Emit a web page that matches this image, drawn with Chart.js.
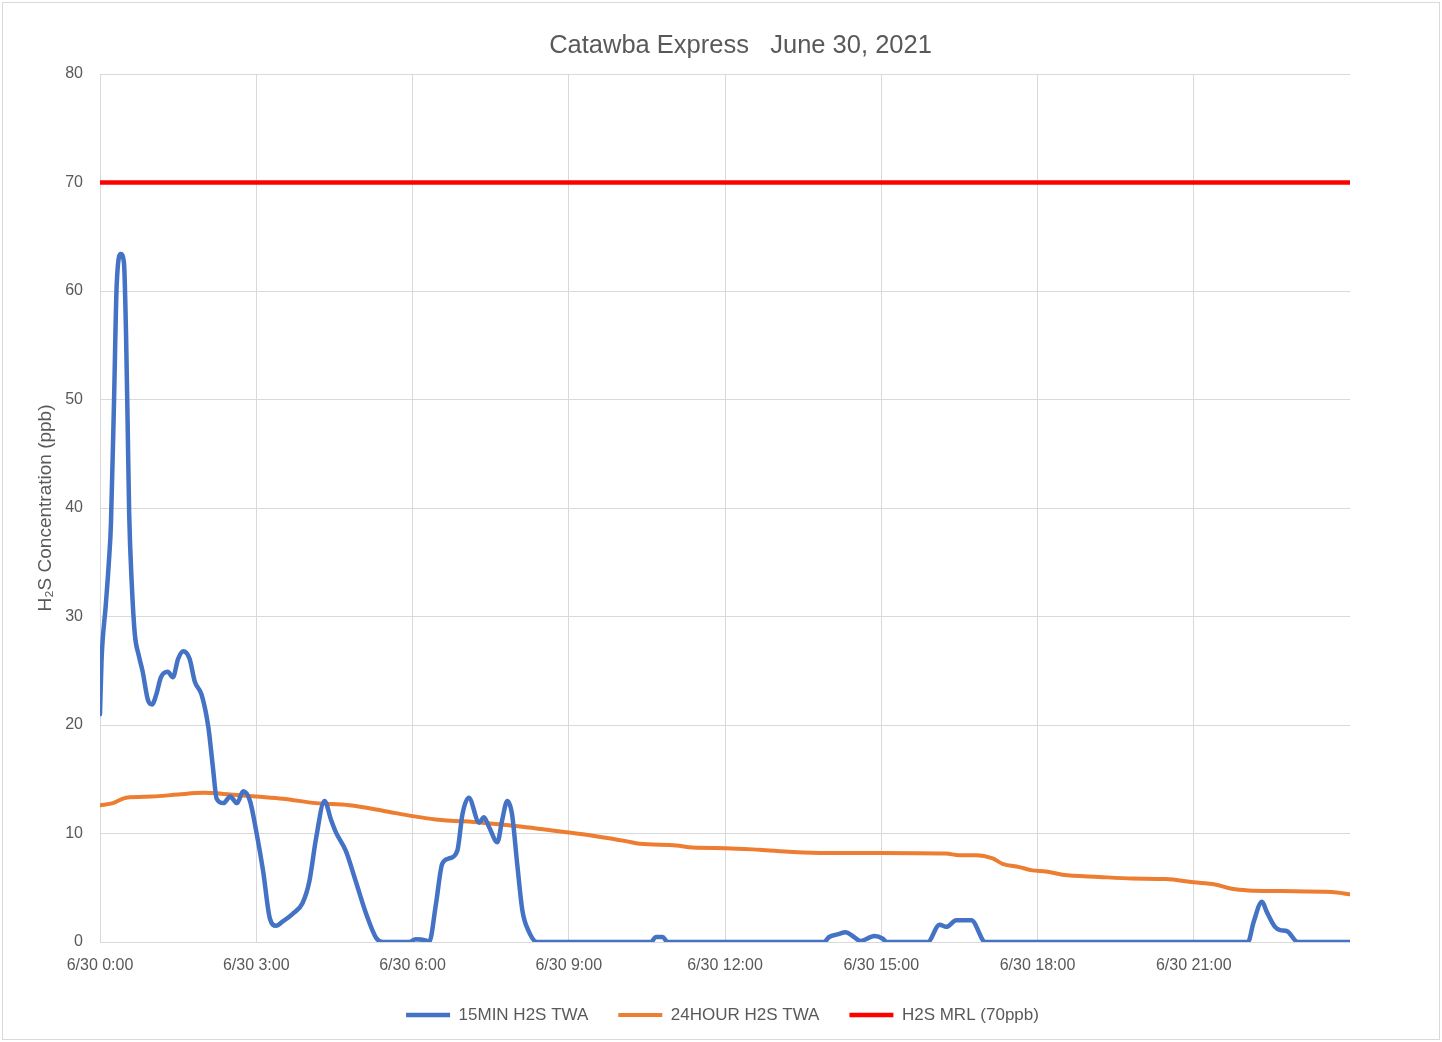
<!DOCTYPE html>
<html>
<head>
<meta charset="utf-8">
<script src="https://cdn.jsdelivr.net/npm/chart.js@4.4.0/dist/chart.umd.min.js"></script>
<style>
  body { margin: 0; background: #fff; }
  #wrap { position: relative; width: 1442px; height: 1042px; }
  #frame { position: absolute; left: 2px; top: 2px; width: 1436px; height: 1036px; border: 1px solid #d9d9d9; pointer-events: none; }
</style>
</head>
<body>
<div id="wrap">
  <canvas id="myChart" width="1442" height="1042"></canvas>
  <div id="frame"></div>
</div>
<script>
// hours since 6/30 0:00 and readings (ppb)
var blueHours = [0, 0.03, 0.11, 0.17, 0.21, 0.27, 0.32, 0.4, 0.46, 0.5, 0.53, 0.56, 0.61, 0.67, 0.74, 0.82, 0.92, 1.0, 1.08, 1.17, 1.3, 1.4, 1.5, 1.6, 1.72, 1.82, 1.95, 2.08, 2.17, 2.24, 2.37, 2.5, 2.63, 2.75, 2.88, 3.0, 3.13, 3.26, 3.38, 3.51, 3.7, 3.89, 4.02, 4.15, 4.31, 4.44, 4.53, 4.72, 4.91, 5.11, 5.3, 5.43, 5.94, 6.06, 6.25, 6.32, 6.45, 6.57, 6.7, 6.86, 6.96, 7.08, 7.28, 7.37, 7.47, 7.63, 7.72, 7.82, 7.91, 8.01, 8.11, 8.23, 8.39, 10.58, 10.67, 10.8, 10.9, 13.9, 14.0, 14.16, 14.32, 14.45, 14.6, 14.87, 15.03, 15.1, 15.89, 16.12, 16.25, 16.44, 16.73, 17.0, 22.04, 22.15, 22.31, 22.4, 22.56, 22.66, 22.79, 23.0, 24];
var blueValues = [21, 26, 31, 35, 38.5, 50, 60.5, 63.4, 62.6, 56, 48, 39.5, 33, 28.3, 26.5, 24.9, 22.3, 21.9, 22.8, 24.4, 24.9, 24.4, 26.1, 26.8, 26.1, 24, 22.8, 19.8, 16, 13.2, 12.8, 13.4, 12.8, 13.9, 13.0, 10.2, 6.6, 2.2, 1.5, 1.9, 2.6, 3.6, 5.6, 9.6, 13.0, 11.2, 10.1, 8.4, 5.6, 2.6, 0.4, 0, 0, 0.25, 0.15, 0, 3.5, 7.2, 7.7, 8.4, 11.8, 13.3, 11.0, 11.5, 10.6, 9.2, 11.2, 13.0, 11.8, 7.2, 2.9, 1.0, 0, 0, 0.46, 0.46, 0, 0, 0.46, 0.7, 0.9, 0.55, 0.1, 0.55, 0.3, 0, 0, 1.6, 1.4, 2.0, 2.0, 0, 0, 1.85, 3.7, 2.8, 1.4, 1.1, 1.0, 0, 0];

var orangeHours = [0, 0.25, 0.5, 1.0, 1.5, 2.0, 2.5, 3.0, 3.51, 4.15, 4.79, 5.43, 6.0, 6.45, 7.34, 7.98, 9.0, 9.46, 10.1, 10.36, 11.06, 11.38, 12.02, 12.66, 13.3, 13.94, 15.0, 16.24, 16.5, 16.82, 17.14, 17.33, 17.65, 17.9, 18.16, 18.48, 19.18, 19.82, 20.46, 21.0, 21.41, 21.73, 22.05, 22.69, 23.65, 24];
var orangeValues = [12.6, 12.8, 13.3, 13.4, 13.6, 13.75, 13.6, 13.4, 13.2, 12.8, 12.6, 12.1, 11.6, 11.3, 11.0, 10.7, 10.1, 9.8, 9.3, 9.05, 8.9, 8.7, 8.65, 8.5, 8.3, 8.2, 8.2, 8.15, 8.0, 8.0, 7.7, 7.2, 6.9, 6.6, 6.5, 6.2, 6.0, 5.85, 5.8, 5.5, 5.3, 4.9, 4.75, 4.7, 4.6, 4.4];

var mrlHours = [0, 24];
var mrlValues = [70, 70];

var tickLabels = ['6/30 0:00', '6/30 3:00', '6/30 6:00', '6/30 9:00', '6/30 12:00', '6/30 15:00', '6/30 18:00', '6/30 21:00'];
var seriesNames = ['15MIN H2S TWA', '24HOUR H2S TWA', 'H2S MRL (70ppb)'];

function pts(xs, ys) {
  return xs.map(function (x, i) { return { x: x, y: ys[i] }; });
}

var grey = '#595959';
var font = 'Liberation Sans, Arial, sans-serif';

// Excel centres title and legend a bit further right than Chart.js does
var nudge = {
  id: 'nudge',
  afterLayout: function (chart) {
    if (chart.titleBlock) chart.titleBlock.left += 101;
    if (chart.legend) chart.legend.left += 65;
  }
};

var ctx = document.getElementById('myChart').getContext('2d');

var myChart = new Chart(ctx, {
  type: 'line',
  data: {
    datasets: [{
      label: seriesNames[0],
      data: pts(blueHours, blueValues),
      borderColor: '#4472C4',
      backgroundColor: '#4472C4',
      borderWidth: 4.5,
      borderCapStyle: 'round',
      borderJoinStyle: 'round',
      cubicInterpolationMode: 'monotone'
    }, {
      label: seriesNames[1],
      data: pts(orangeHours, orangeValues),
      borderColor: '#ED7D31',
      backgroundColor: '#ED7D31',
      borderWidth: 4,
      borderCapStyle: 'round',
      borderJoinStyle: 'round',
      cubicInterpolationMode: 'monotone'
    }, {
      label: seriesNames[2],
      data: pts(mrlHours, mrlValues),
      borderColor: '#FF0000',
      backgroundColor: '#FF0000',
      borderWidth: 4.5,
      borderCapStyle: 'round'
    }]
  },
  plugins: [nudge],
  options: {
    responsive: false,
    animation: false,
    layout: { padding: { top: 20, left: 30, right: 92, bottom: 8.5 } },
    elements: { point: { radius: 0 } },
    plugins: {
      title: {
        display: true,
        text: 'Catawba Express   June 30, 2021',
        color: grey,
        font: { family: font, size: 25.5, weight: 'normal' },
        padding: { top: 10.5, bottom: 12.9 }
      },
      legend: {
        position: 'bottom',
        labels: {
          color: grey,
          font: { family: font, size: 17 },
          usePointStyle: true,
          pointStyle: 'line',
          pointStyleWidth: 44,
          boxHeight: 17,
          padding: 30
        }
      },
      tooltip: { enabled: false }
    },
    scales: {
      x: {
        type: 'linear',
        min: 0,
        max: 24,
        afterFit: function (s) { s.height = 34.5; },
        ticks: {
          stepSize: 3,
          padding: 14,
          color: grey,
          maxRotation: 0,
          font: { family: font, size: 16 },
          callback: function (v) { return tickLabels[v / 3] || ''; }
        },
        grid: {
          drawTicks: false,
          color: function (c) { return c.tick && c.tick.value === 24 ? 'rgba(0,0,0,0)' : '#d9d9d9'; }
        },
        border: { display: false }
      },
      y: {
        min: 0,
        max: 80,
        afterFit: function (s) { s.width = 70; },
        ticks: {
          stepSize: 10,
          padding: 17,
          color: grey,
          font: { family: font, size: 16 }
        },
        grid: { drawTicks: false, color: '#d9d9d9' },
        border: { display: false },
        title: {
          display: true,
          text: 'H₂S Concentration (ppb)',
          color: grey,
          font: { family: font, size: 19 }
        }
      }
    }
  }
});
</script>
</body>
</html>
